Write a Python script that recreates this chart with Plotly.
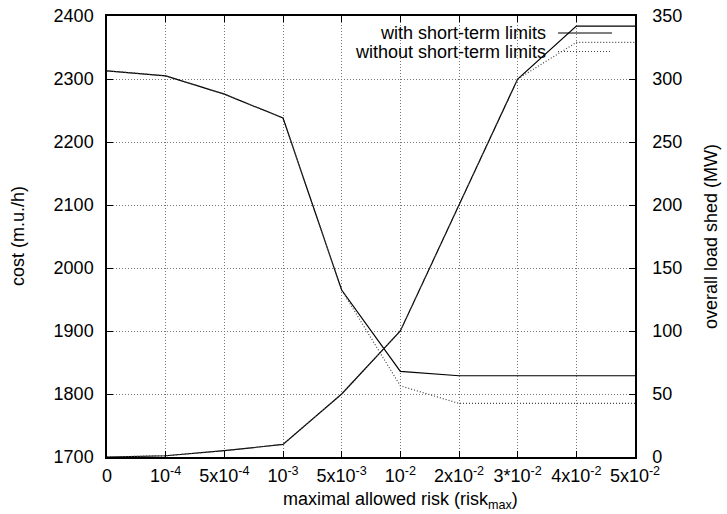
import plotly.graph_objects as go

x_pos = [0, 1, 2, 3, 4, 5, 6, 7, 8, 9]
x_labels = ["0", "10<sup>-4</sup>", "5x10<sup>-4</sup>", "10<sup>-3</sup>", "5x10<sup>-3</sup>",
            "10<sup>-2</sup>", "2x10<sup>-2</sup>", "3*10<sup>-2</sup>", "4x10<sup>-2</sup>", "5x10<sup>-2</sup>"]
cost_with = [2313, 2305, 2276, 2238, 1965, 1836, 1829, 1829, 1829, 1829]
cost_without = [2313, 2305, 2276, 2238, 1965, 1813, 1785, 1785, 1785, 1785]
shed_with = [0, 1, 5, 10, 50, 100, 200, 300, 342, 342]
shed_without = [0, 1, 5, 10, 50, 100, 200, 300, 329, 329]
cost_ticks = [1700, 1800, 1900, 2000, 2100, 2200, 2300, 2400]
shed_ticks = [0, 50, 100, 150, 200, 250, 300, 350]

FONT = "Liberation Sans, Arial, sans-serif"
FS = 18
solid = dict(color="black", width=1.2)
dotted = dict(color="#444444", width=1.2, dash="1px,2px")

W, H = 727, 514
L, R, T, B = 107, 92, 16, 57
PW, PH = W - L - R, H - T - B

fig = go.Figure()
fig.add_trace(go.Scatter(x=x_pos, y=cost_with, mode="lines", line=solid, yaxis="y"))
fig.add_trace(go.Scatter(x=x_pos, y=cost_without, mode="lines", line=dotted, yaxis="y"))
fig.add_trace(go.Scatter(x=x_pos, y=shed_with, mode="lines", line=solid, yaxis="y2"))
fig.add_trace(go.Scatter(x=x_pos, y=shed_without, mode="lines", line=dotted, yaxis="y2"))

axis_common = dict(showline=True, linecolor="black", linewidth=1.5, ticks="inside", ticklen=6,
                   tickcolor="black", zeroline=False, automargin=False,
                   tickfont=dict(family=FONT, size=FS, color="black"))

fig.update_layout(
    width=W, height=H,
    margin=dict(l=L, r=R, t=T, b=B),
    plot_bgcolor="white", paper_bgcolor="white",
    showlegend=False,
    font=dict(family=FONT, size=FS, color="black"),
    xaxis=dict(range=[0, 9], tickvals=x_pos, ticktext=x_labels, mirror="ticks",
               showgrid=True, gridcolor="#777777", griddash="1px,2px", gridwidth=1,
               ticklabelstandoff=2,
               **axis_common),
    yaxis=dict(range=[1700, 2400], tickvals=cost_ticks, showgrid=True, gridcolor="#777777",
               griddash="1px,2px", gridwidth=1, mirror=True, ticklabelstandoff=8,
               **axis_common),
    yaxis2=dict(range=[0, 350], tickvals=shed_ticks, overlaying="y", side="right", showgrid=False,
                ticklabelstandoff=12,
                **axis_common),
)

def px_x(p):
    return (p - L) / PW

def px_y(p):
    return 1 - (p - T) / PH

# axis titles
fig.add_annotation(text="maximal allowed risk (risk<sub>max</sub>)", xref="paper", yref="paper",
                   x=px_x(400), y=px_y(500), xanchor="center", yanchor="middle", showarrow=False,
                   font=dict(family=FONT, size=FS))
fig.add_annotation(text="cost (m.u./h)", xref="paper", yref="paper", textangle=-90,
                   x=px_x(18), y=px_y(236), xanchor="center", yanchor="middle", showarrow=False,
                   font=dict(family=FONT, size=FS))
fig.add_annotation(text="overall load shed (MW)", xref="paper", yref="paper", textangle=-90,
                   x=px_x(711), y=px_y(237), xanchor="center", yanchor="middle", showarrow=False,
                   font=dict(family=FONT, size=FS))

# gnuplot-style key: text right-aligned, sample to its right
legend_items = [("with short-term limits", solid), ("without short-term limits", dotted)]
for i, (name, ln) in enumerate(legend_items):
    yp = px_y(33 + 18.5 * i)
    fig.add_annotation(text=name, xref="paper", yref="paper", x=px_x(548), y=yp,
                       xanchor="right", yanchor="middle", showarrow=False,
                       font=dict(family=FONT, size=FS, color="black"))
    fig.add_shape(type="line", xref="paper", yref="paper", x0=px_x(558), x1=px_x(612),
                  y0=yp, y1=yp, line=ln)

fig.write_html("out.html", config={"displayModeBar": False},
               post_script="document.body.style.margin='0';document.body.style.overflow='hidden';")
